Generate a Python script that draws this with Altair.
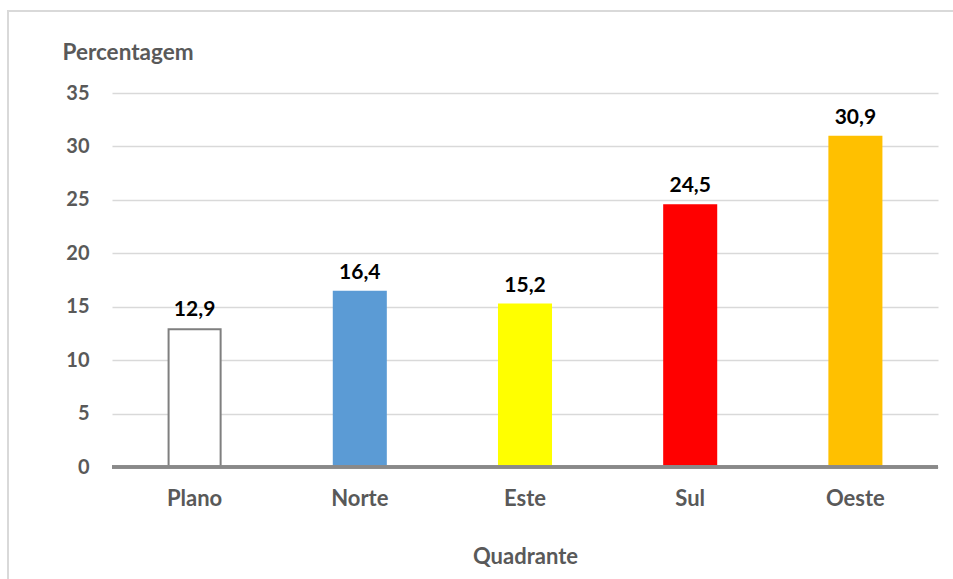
import altair as alt
import pandas as pd

categories = ["Plano", "Norte", "Este", "Sul", "Oeste"]
values = [12.9, 16.4, 15.2, 24.5, 30.9]
labels = ["12,9", "16,4", "15,2", "24,5", "30,9"]
fills = ["#FFFFFF", "#5B9BD5", "#FFFF00", "#FF0000", "#FFC000"]
strokes = ["#7F7F7F", "#5B9BD5", "#FFFF00", "#FF0000", "#FFC000"]

df = pd.DataFrame({"cat": categories, "val": values, "lab": labels,
                   "fill": fills, "stroke": strokes})

FONT = "Lato"
GRAY = "#595959"

x_enc = alt.X("cat:N", sort=categories,
              scale=alt.Scale(paddingInner=0.685, paddingOuter=0.3425),
              axis=alt.Axis(title="Quadrante", labelAngle=0, labelFont=FONT,
                            labelFontSize=22, labelFontWeight="bold", labelColor=GRAY,
                            labelPadding=21, ticks=False, domain=False,
                            titleFont=FONT, titleFontSize=22, titleFontWeight="bold",
                            titleColor=GRAY, titleY=96, titleBaseline="alphabetic"))
y_enc = alt.Y("val:Q", scale=alt.Scale(domain=[0, 35], nice=False),
              axis=alt.Axis(title="Percentagem", values=[0, 5, 10, 15, 20, 25, 30, 35],
                            labelFont=FONT, labelFontSize=20, labelFontWeight="bold",
                            labelColor=GRAY, labelPadding=23, ticks=False, domain=False,
                            gridColor="#D9D9D9", gridWidth=1.5,
                            titleFont=FONT, titleFontSize=22.5, titleFontWeight="bold",
                            titleColor=GRAY, titleAngle=0, titleAlign="left",
                            titleBaseline="alphabetic", titleX=-50, titleY=-34))

border = alt.Chart(df).mark_rect(fill=None, stroke="#D9D9D9", strokeWidth=1.5, clip=False).encode(
    x=alt.value(-104), x2=alt.value(2000), y=alt.value(-82), y2=alt.value(2000)
)

bars = alt.Chart(df).mark_bar(strokeWidth=2).encode(
    x=x_enc, y=y_enc,
    fill=alt.Fill("fill:N", scale=None),
    stroke=alt.Stroke("stroke:N", scale=None),
)

zero = alt.Chart(df).mark_rule(color="#898989", strokeWidth=3).encode(
    y=alt.datum(0), x=alt.value(0), x2=alt.value(826)
)

text = alt.Chart(df).mark_text(font=FONT, fontSize=21, fontWeight="bold", color="#000000",
                               baseline="alphabetic", dy=-13).encode(
    x=alt.X("cat:N", sort=categories), y="val:Q", text="lab:N"
)

chart = alt.layer(border, bars, zero, text).properties(
    width=826, height=374,
    autosize=alt.AutoSizeParams(type="none"),
    padding={"left": 112, "top": 93, "right": 15, "bottom": 112},
    background="white",
).configure_view(stroke=None)

chart.save("out.html", embed_options={"renderer": "svg", "actions": False})
